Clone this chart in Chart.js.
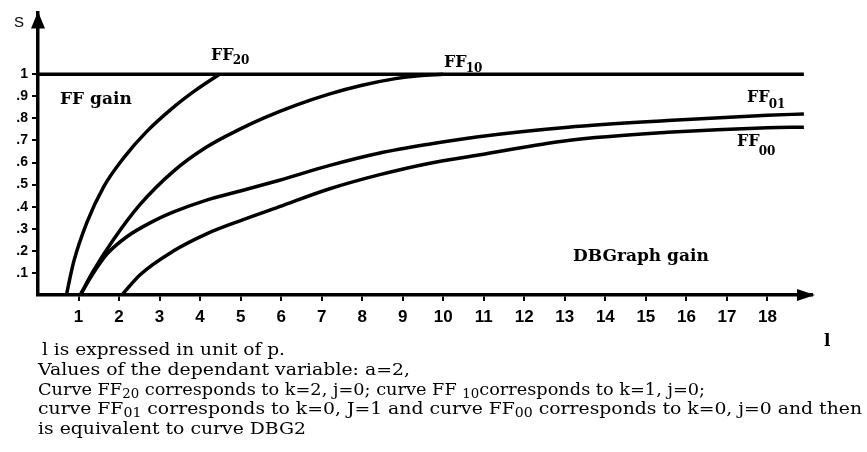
<!DOCTYPE html>
<html>
<head>
<meta charset="utf-8">
<script src="https://cdn.jsdelivr.net/npm/chart.js@4/dist/chart.umd.min.js"></script>
<style>
  body { margin: 0; background: #fff; }
  #wrap { position: relative; width: 867px; height: 452px; overflow: hidden; }
  .cap { position: absolute; white-space: nowrap; font-family: "DejaVu Serif", serif; font-size: 16px;
         line-height: 20px; color: #000; transform-origin: 0 50%; }
  .cap sub { font-size: 12px; vertical-align: -3px; line-height: 0; }
</style>
</head>
<body>
<div id="wrap">
  <canvas id="graphe" width="867" height="452"></canvas>
  <div class="cap" data-w="243" style="left:42px;top:340px">l is expressed in unit of p.</div>
  <div class="cap" data-w="372" style="left:38px;top:360px">Values of the dependant variable: a=2,</div>
  <div class="cap" data-w="667" style="left:38px;top:380px">Curve FF<sub>20</sub> corresponds to k=2, j=0; curve FF <sub>10</sub>corresponds to k=1, j=0;</div>
  <div class="cap" data-w="824" style="left:38px;top:399px">curve FF<sub>01</sub> corresponds to k=0, J=1 and curve FF<sub>00</sub> corresponds to k=0, j=0 and then</div>
  <div class="cap" data-w="268" style="left:38px;top:419px">is equivalent to curve DBG2</div>
</div>
<script>
// axes
const xTicks = [1,2,3,4,5,6,7,8,9,10,11,12,13,14,15,16,17,18];
const yTicks = [0.1,0.2,0.3,0.4,0.5,0.6,0.7,0.8,0.9,1];

// S = 1 line (FF gain)
const gainL = [0, 18.9];
const gainS = [1, 1];

// FF20 : k=2, j=0
const ff20L = [0.70, 0.88, 1.21, 1.62, 2.11, 2.68, 3.34, 3.91, 4.48];
const ff20S = [0, 0.15, 0.33, 0.49, 0.62, 0.74, 0.85, 0.93, 1.0];

// FF10 : k=1, j=0
const ff10L = [1.04, 1.37, 1.86, 2.52, 3.34, 4.16, 4.97, 5.55, 6.37, 7.18, 8.0, 8.82, 9.4, 10.0];
const ff10S = [0, 0.11, 0.25, 0.41, 0.56, 0.67, 0.75, 0.80, 0.86, 0.91, 0.95, 0.98, 0.993, 1.0];

// FF01 : k=0, j=1
const ff01L = [1.05, 1.3, 1.7, 2.2, 2.8, 3.33, 4.16, 4.97, 5.96, 7.18, 8.41, 9.64, 10.87, 13.08, 15.54, 18.0, 18.9];
const ff01S = [0, 0.08, 0.185, 0.265, 0.33, 0.375, 0.43, 0.47, 0.52, 0.586, 0.642, 0.683, 0.717, 0.76, 0.79, 0.814, 0.82];

// FF00 : k=0, j=0 (= DBG2)
const ff00L = [2.07, 2.52, 3.33, 4.16, 4.97, 5.96, 7.18, 8.41, 9.64, 10.87, 13.08, 15.54, 18.0, 18.9];
const ff00S = [0, 0.092, 0.198, 0.277, 0.335, 0.40, 0.48, 0.544, 0.596, 0.634, 0.70, 0.737, 0.758, 0.76];

function points(lx, sy) {
  let tab = [];
  for (let i = 0; i < lx.length; i++) {
    tab.push({ x: lx[i], y: sy[i] });
  }
  return tab;
}

function courbe(nom, lx, sy) {
  return {
    label: nom,
    data: points(lx, sy),
    showLine: true,
    borderColor: '#000',
    borderWidth: 3.5,
    pointRadius: 0,
    cubicInterpolationMode: 'monotone'
  };
}

// label with subscript, e.g. FF + 20
function ecrireIndice(ctx, txt, ind, x, y, chute) {
  ctx.font = 'bold 16px "DejaVu Serif", serif';
  ctx.fillText(txt, x, y);
  let w = ctx.measureText(txt).width;
  ctx.font = 'bold 12px "DejaVu Serif", serif';
  ctx.fillText(ind, x + w - 1, y + chute);
}

const decor = {
  id: 'decor',
  afterDraw(chart) {
    const ctx = chart.ctx;
    const a = chart.chartArea;
    ctx.save();
    ctx.fillStyle = '#000';
    // arrow heads
    ctx.beginPath();
    ctx.moveTo(a.left, a.top - 1);
    ctx.lineTo(a.left - 7, a.top + 16);
    ctx.lineTo(a.left + 7, a.top + 16);
    ctx.closePath();
    ctx.fill();
    ctx.beginPath();
    ctx.moveTo(a.right + 3, a.bottom);
    ctx.lineTo(a.right - 15, a.bottom - 6);
    ctx.lineTo(a.right - 15, a.bottom + 6);
    ctx.closePath();
    ctx.fill();
    // axis names
    ctx.textBaseline = 'alphabetic';
    ctx.font = '15px "Liberation Sans", sans-serif';
    ctx.fillText('S', 14, 27);
    ctx.font = 'bold 17px "DejaVu Serif", serif';
    ctx.fillText('l', 824, 346);
    // curve names
    ecrireIndice(ctx, 'FF', '20', 211, 60, 4);
    ecrireIndice(ctx, 'FF', '10', 444, 67, 5);
    ecrireIndice(ctx, 'FF', '01', 747, 102, 6);
    ecrireIndice(ctx, 'FF', '00', 737, 146, 9);
    ctx.font = 'bold 17px "DejaVu Serif", serif';
    ctx.fillText('FF gain', 60, 104);
    ctx.fillText('DBGraph gain', 573, 261);
    ctx.restore();
  }
};

const diagramme = new Chart(document.getElementById('graphe'), {
  type: 'scatter',
  data: {
    datasets: [
      courbe('FF gain', gainL, gainS),
      courbe('FF20', ff20L, ff20S),
      courbe('FF10', ff10L, ff10S),
      courbe('FF01', ff01L, ff01S),
      courbe('FF00', ff00L, ff00S)
    ]
  },
  options: {
    responsive: false,
    animation: false,
    layout: { padding: { left: 0, right: 55, top: 10, bottom: 127 } },
    plugins: { legend: { display: false }, tooltip: { enabled: false } },
    scales: {
      x: {
        type: 'linear', min: 0, max: 19.1,
        afterBuildTicks: s => { s.ticks = xTicks.map(v => ({ value: v })); },
        afterFit: s => { s.height = 30; },
        border: { display: true, color: '#000', width: 3.5 },
        grid: { drawOnChartArea: false, drawTicks: true, tickLength: 6, color: '#000', lineWidth: 2 },
        ticks: { color: '#000', padding: 6, maxRotation: 0, autoSkip: false,
                 font: { family: '"Liberation Sans", Arial, sans-serif', size: 17, weight: 'bold' } }
      },
      y: {
        type: 'linear', min: 0, max: 1.28,
        afterBuildTicks: s => { s.ticks = yTicks.map(v => ({ value: v })); },
        afterFit: s => { s.width = 38; },
        border: { display: true, color: '#000', width: 3.5 },
        grid: { drawOnChartArea: false, drawTicks: true, tickLength: 6, color: '#000', lineWidth: 2 },
        ticks: { color: '#000', padding: 4, autoSkip: false,
                 font: { family: '"Liberation Sans", Arial, sans-serif', size: 14, weight: 'bold' },
                 callback: v => (v >= 0.999 ? '1' : '.' + Math.round(v * 10)) }
      }
    }
  },
  plugins: [decor]
});

// stretch caption lines to the width they take in the figure
for (let d of document.querySelectorAll('.cap')) {
  let cible = parseFloat(d.dataset.w);
  let w = d.getBoundingClientRect().width;
  d.style.transform = 'scaleX(' + (cible / w) + ')';
}
</script>
</body>
</html>
